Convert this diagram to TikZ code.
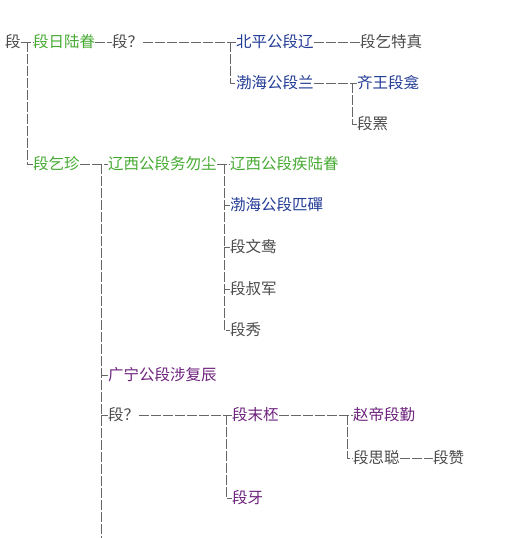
\documentclass[tikz,border=0pt]{standalone}
\usepackage{fontspec}
\setmainfont{Noto Sans CJK SC}
\definecolor{lvse}{RGB}{70,170,50}
\definecolor{lanse}{RGB}{35,60,150}
\definecolor{zise}{RGB}{110,35,125}
\definecolor{huise}{RGB}{75,75,75}
\begin{document}
\begin{tikzpicture}[x=1pt, y=-1pt, line join=round,
	every node/.style={anchor=west, inner sep=0pt, font=\fontsize{15.5}{18}\selectfont, text=huise},
	lv/.style={text=lvse}, lan/.style={text=lanse}, zi/.style={text=zise},
	xian/.style={draw=huise!85, line width=0.9, dash pattern=on 10pt off 2pt}]
	\fill[white] (0,0) rectangle (514,538);
	\useasboundingbox (0,0) rectangle (514,538);
	% row 1
	\node (r0) at (5,42) {段};
	\node[lv] (a1) at (33,42) {段日陆眷};
	\node (a2) at (112,42) {段？};
	\node[lan] (b1) at (236,42) {北平公段辽};
	\node (b1c) at (360,42) {段乞特真};
	\node[lan] (b2) at (236,83) {渤海公段兰};
	\node[lan] (c1) at (357,83) {齐王段龛};
	\node (c2) at (357,124) {段罴};
	% row 2
	\node[lv] (a3) at (33,164) {段乞珍};
	\node[lv] (d1) at (108,164) {辽西公段务勿尘};
	\node[lv] (e1) at (230,164) {辽西公段疾陆眷};
	\node[lan] (e2) at (230,205) {渤海公段匹磾};
	\node (e3) at (230,247) {段文鸯};
	\node (e4) at (230,289) {段叔军};
	\node (e5) at (230,330) {段秀};
	\node[zi] (d2) at (108,375) {广宁公段涉复辰};
	\node (d3) at (108,415) {段？};
	\node[zi] (f1) at (232,415) {段末柸};
	\node[zi] (g1) at (353,415) {赵帝段勤};
	\node (g2) at (353,458) {段思聪};
	\node (g2c) at (433,458) {段赞};
	\node[zi] (f2) at (232,498) {段牙};
	% junctions
	\coordinate (j0) at (27,42);
	\coordinate (j1) at (230,42);
	\coordinate (j2) at (352,83);
	\coordinate (j3) at (101,164);
	\coordinate (j4) at (224,164);
	\coordinate (j5) at (226,415);
	\coordinate (j6) at (347,415);
	\coordinate (bot) at (101,538);
	% lines
	\draw[xian] (r0) -- (a1) (a1) -- (a2) (a2) -- (b1) (b1) -- (b1c);
	\draw[xian] (j0) |- (a3.west);
	\draw[xian] (j1) |- (b2.west);
	\draw[xian] (b2) -- (c1) (j2) |- (c2.west);
	\draw[xian] (a3) -- (d1) (d1) -- (e1);
	\draw[xian] (j4) |- (e5.west);
	\foreach \k in {e2,e3,e4} \draw[xian] (j4 |- \k.west) -- (\k.west);
	\draw[xian] (j3) -- (bot);
	\foreach \k in {d2,d3} \draw[xian] (j3 |- \k.west) -- (\k.west);
	\draw[xian] (d3) -- (f1) (f1) -- (g1);
	\draw[xian] (j5) |- (f2.west);
	\draw[xian] (j6) |- (g2.west);
	\draw[xian] (g2) -- (g2c);
\end{tikzpicture}
\end{document}
